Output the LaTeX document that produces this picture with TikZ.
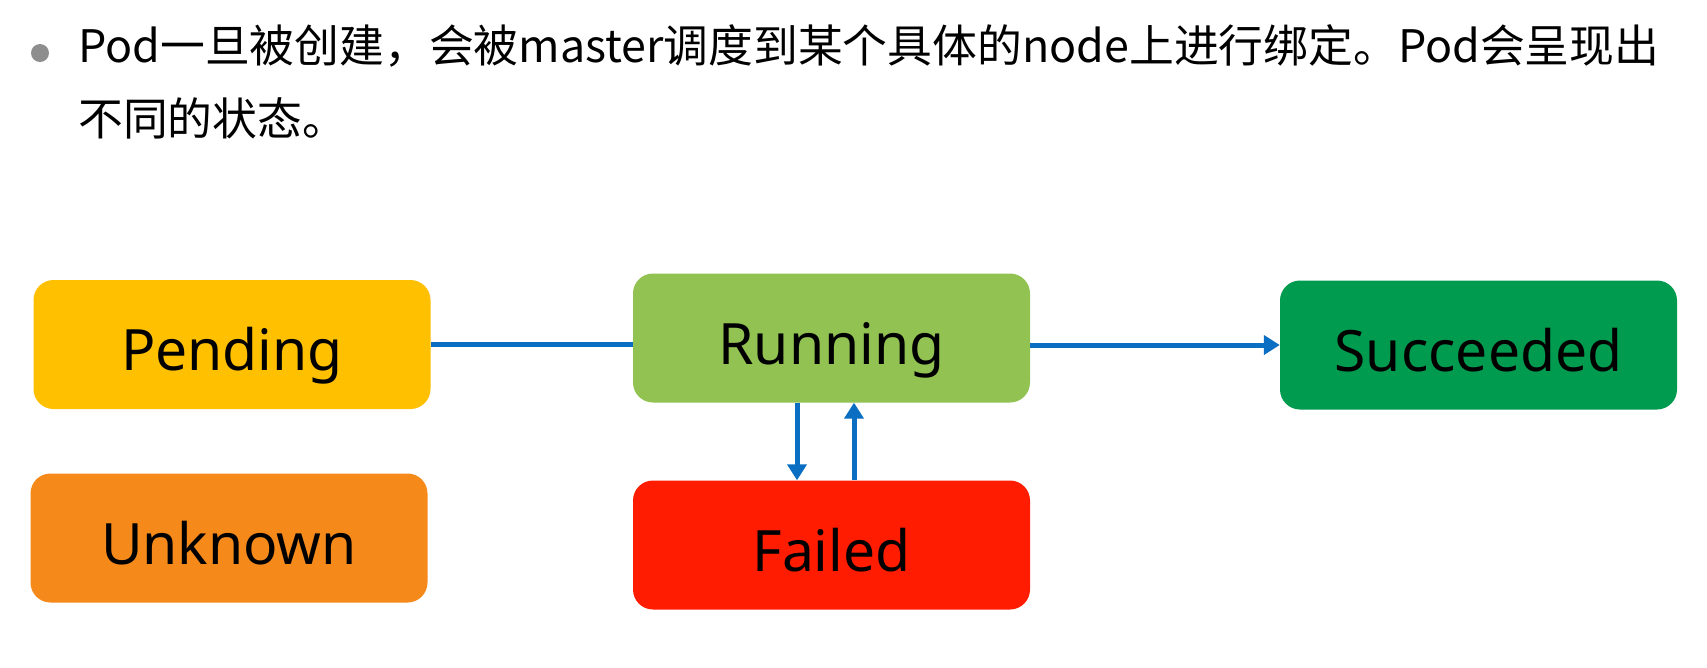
\documentclass[tikz,border=0pt]{standalone}
\usepackage{fontspec}
\setmainfont{Noto Sans}
\newfontfamily\cjk{Noto Sans CJK SC}
\usetikzlibrary{arrows.meta}
\definecolor{pendingcol}{HTML}{FFC000}
\definecolor{runningcol}{HTML}{92C352}
\definecolor{succeededcol}{HTML}{009B4E}
\definecolor{unknowncol}{HTML}{F5891A}
\definecolor{failedcol}{HTML}{FF1C00}
\definecolor{flowcol}{HTML}{0A6FC2}
\definecolor{bulletcol}{HTML}{8E8E8E}

\begin{document}
\begin{tikzpicture}[x=1pt, y=-1pt,
            statebox/.style = {draw=none, rounded corners=20pt, minimum width=397pt, minimum height=129pt,
                inner sep=0pt, font=\fontsize{57}{60}\selectfont, text height=60pt, text depth=8pt},
            flow/.style = {draw=flowcol, line width=5pt},
            tip/.style = {-{Triangle[width=19pt,length=16pt]}},
            textline/.style = {font=\cjk\fontsize{44.8}{50}\selectfont, anchor=base west, inner sep=0pt}
            ]
            \useasboundingbox[fill=white] (0,0) rectangle (1707,667);
            \fill[bulletcol] (40,53) circle (9pt);
            \node[textline] (line1) at (78,62) {Pod一旦被创建，会被master调度到某个具体的node上进行绑定。Pod会呈现出};
            \node[textline] (line2) at (78,135) {不同的状态。};
            \node[statebox, fill=pendingcol] (pending) at (232,344.5) {Pending};
            \node[statebox, fill=unknowncol] (unknown) at (229,538) {Unknown};
            \node[statebox, fill=runningcol] (running) at (831.5,338) {Running};
            \node[statebox, fill=failedcol] (failed) at (831.5,545) {Failed};
            \node[statebox, fill=succeededcol] (succeeded) at (1478.5,345) {Succeeded};
            \draw[flow] (pending.east) -- (pending.east -| running.west);
            \draw[flow, tip] (running.east |- succeeded.west) -- (succeeded.west);
            \draw[flow, tip] ([xshift=-34.5pt]running.south) -- ([xshift=-34.5pt]failed.north);
            \draw[flow, tip] ([xshift=22.5pt]failed.north) -- ([xshift=22.5pt]running.south);
        \end{tikzpicture}
\end{document}
